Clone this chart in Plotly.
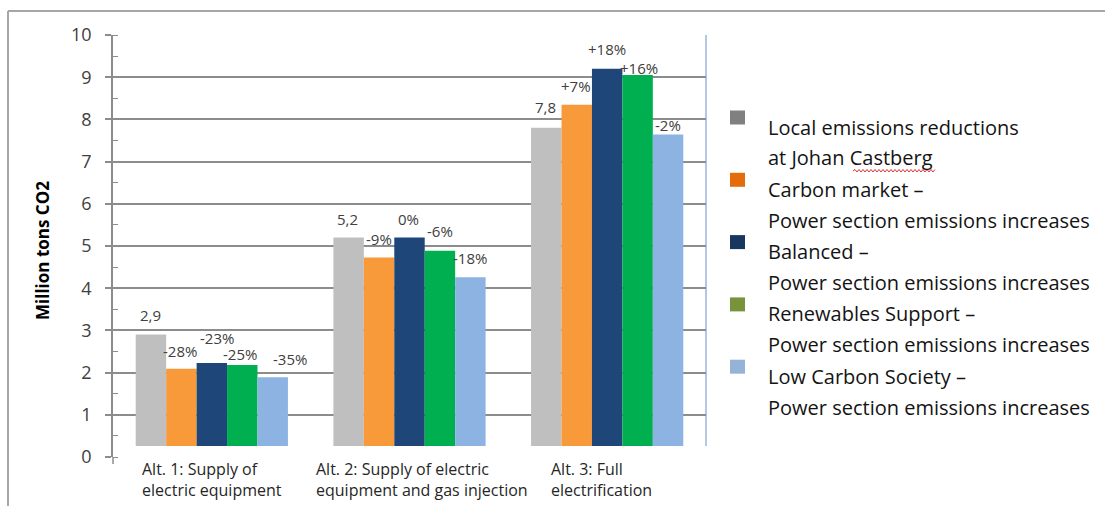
import plotly.graph_objects as go

# ---- data ----
categories = ["Alt. 1: Supply of<br>electric equipment",
              "Alt. 2: Supply of electric<br>equipment and gas injection",
              "Alt. 3: Full<br>electrification"]
series_names = ["Local emissions reductions at Johan Castberg",
                "Carbon market – Power section emissions increases",
                "Balanced – Power section emissions increases",
                "Renewables Support – Power section emissions increases",
                "Low Carbon Society – Power section emissions increases"]
local_reductions = [2.9, 5.2, 7.8]
carbon_market = [2.09, 4.73, 8.35]
balanced = [2.23, 5.2, 9.2]
renewables_support = [2.18, 4.89, 9.05]
low_carbon_society = [1.89, 4.26, 7.64]
value_labels = [["2,9", "-28%", "-23%", "-25%", "-35%"],
                ["5,2", "-9%", "0%", "-6%", "-18%"],
                ["7,8", "+7%", "+18%", "+16%", "-2%"]]
legend_lines = [["Local emissions reductions", "at Johan Castberg"],
                ["Carbon market –", "Power section emissions increases"],
                ["Balanced –", "Power section emissions increases"],
                ["Renewables Support –", "Power section emissions increases"],
                ["Low Carbon Society –", "Power section emissions increases"]]
y_ticks = list(range(0, 11))

# ---- style ----
bar_colors = ["#bfbfbf", "#f89a3a", "#1f4678", "#00b050", "#8db3e2"]
legend_colors = ["#808080", "#e46c0a", "#17375e", "#77933c", "#95b3d7"]
# label nudges (pixels) for the data labels, per group and bar
label_dx = [[0, -1, 5, -2, 17], [-1, 0, -1, 0, 0], [-1, -1, 0, 1, 0]]
label_dy = [[20, 18, 25, 11, 18], [19, 18, 19, 20, 19], [21, 19, 20, 7, 10]]
cat_dx = [0, 12, -6]

W, H = 1105, 506
PL, PR, PT, PB = 113, 706, 35, 457
BARGAP = 0.23
FONT = "Open Sans"


def px(x):
    return (x - PL) / (PR - PL)


def py(y):
    return (PB - y) / (PB - PT)


series = [local_reductions, carbon_market, balanced, renewables_support, low_carbon_society]
n = len(series)
bw = (1 - BARGAP) / n

fig = go.Figure()
for name, vals, col in zip(series_names, series, bar_colors):
    fig.add_trace(go.Bar(x=categories, y=vals, name=name, marker_color=col,
                         marker_line_width=0, showlegend=False))

annotations = []
# data labels above bars
for j in range(len(categories)):
    for i in range(n):
        annotations.append(dict(
            x=j + (i - (n - 1) / 2) * bw, y=series[i][j], xref="x", yref="y",
            text=value_labels[j][i], showarrow=False, yanchor="middle",
            xshift=label_dx[j][i], yshift=label_dy[j][i],
            font=dict(family=FONT, size=15, color="#404040")))

# category labels (left-aligned lines)
for j, cat in enumerate(categories):
    annotations.append(dict(
        x=j, y=py(456), xref="x", yref="paper", text=cat, showarrow=False,
        xanchor="center", yanchor="top", align="left", xshift=cat_dx[j],
        font=dict(family=FONT, size=16, color="#262626")))

# y-axis title
annotations.append(dict(
    x=px(43), y=py(251), xref="paper", yref="paper", text="<b>Million tons CO2</b>",
    showarrow=False, textangle=-90, xanchor="center", yanchor="middle",
    font=dict(family=FONT, size=17, color="#000000")))

shapes = []
# white box over the foot of the bars (category text box)
shapes.append(dict(type="rect", xref="paper", yref="paper", layer="above",
                   x0=px(119), x1=px(712), y0=py(446), y1=py(505),
                   fillcolor="white", line_width=0))
# plot-area border on the right
shapes.append(dict(type="line", xref="paper", yref="paper", layer="below",
                   x0=px(706), x1=px(706), y0=py(446), y1=py(35),
                   line=dict(color="#b4c8e3", width=2)))
# axis stub below zero
shapes.append(dict(type="line", xref="paper", yref="paper",
                   x0=px(113), x1=px(113), y0=py(457), y1=py(464),
                   line=dict(color="#8c8c8c", width=1.5)))
# outer frame
shapes.append(dict(type="line", xref="paper", yref="paper",
                   x0=px(8), x1=px(1105), y0=py(11), y1=py(11),
                   line=dict(color="#a6a6a6", width=2)))
shapes.append(dict(type="line", xref="paper", yref="paper",
                   x0=px(8), x1=px(8), y0=py(11), y1=py(506),
                   line=dict(color="#a6a6a6", width=2)))

# legend
for k, (lines, col) in enumerate(zip(legend_lines, legend_colors)):
    y1 = 127 + k * 62.3
    ym = y1 - 9.5
    shapes.append(dict(type="rect", xref="paper", yref="paper",
                       x0=px(730), x1=px(745), y0=py(ym + 7), y1=py(ym - 7),
                       fillcolor=col, line_width=0))
    for m, line in enumerate(lines):
        annotations.append(dict(
            x=px(766), y=py(y1 + m * 30.8), xref="paper", yref="paper", text=line,
            showarrow=False, xanchor="left", yanchor="middle",
            font=dict(family=FONT, size=20, color="#141414")))

# spell-check squiggle under "Castberg"
zig = "M {:.5f} {:.5f}".format(px(853), py(171))
xx, up = 853, True
while xx < 935:
    xx += 2
    zig += " L {:.5f} {:.5f}".format(px(xx), py(169.5 if up else 172))
    up = not up
shapes.append(dict(type="path", xref="paper", yref="paper", path=zig,
                   line=dict(color="#e03030", width=1)))

fig.update_layout(
    width=W, height=H,
    margin=dict(l=PL, r=W - PR, t=PT, b=H - PB, pad=0),
    paper_bgcolor="white", plot_bgcolor="white",
    barmode="group", bargap=BARGAP, bargroupgap=0,
    font=dict(family=FONT),
    xaxis=dict(showticklabels=False, showgrid=False, ticks="", showline=False,
               zeroline=False, range=[-0.5, 2.5]),
    yaxis=dict(range=[0, 10], tickvals=y_ticks, showgrid=True, gridcolor="#8c8c8c",
               gridwidth=1.5, zeroline=False, showline=True, linecolor="#8c8c8c",
               linewidth=1.5, ticks="outside", ticklen=6, tickcolor="#8c8c8c",
               tickwidth=1.5, ticklabelstandoff=10,
               minor=dict(dtick=0.5, ticks="inside", ticklen=5, tickcolor="#8c8c8c",
                          tickwidth=1.2, showgrid=False),
               tickfont=dict(family=FONT, size=18, color="#404040")),
    annotations=annotations, shapes=shapes,
)

fig.write_html("out.html")
